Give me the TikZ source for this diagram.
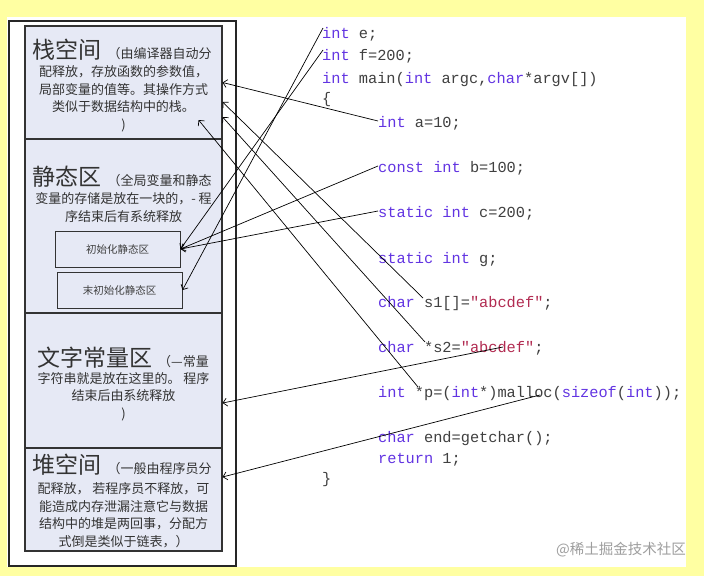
\documentclass[tikz,border=0pt]{standalone}
\usepackage{fontspec}
\usetikzlibrary{arrows.meta}
\newfontfamily\cjk{Noto Sans CJK SC}
\newfontfamily\codefont{Liberation Mono}
\definecolor{bgyellow}{RGB}{255,255,162}
\definecolor{areafill}{RGB}{230,233,245}
\definecolor{kwblue}{RGB}{98,52,226}
\definecolor{strred}{RGB}{178,44,82}
\definecolor{codegray}{RGB}{64,64,64}
\newcommand{\kw}[1]{\textcolor{kwblue}{#1}}
\newcommand{\strg}[1]{\textcolor{strred}{#1}}
\newcommand{\areaname}[1]{{\fontsize{23}{23}\selectfont #1}\hspace{6pt}}
\tikzset{
  area/.style={draw=black!80, fill=areafill, line width=1.1pt, minimum width=197pt, inner sep=0pt},
  subarea/.style={draw=black!80, fill=areafill, line width=1pt, minimum width=125pt, minimum height=36pt,
    inner sep=0pt, font=\cjk\fontsize{10.5}{12}\selectfont, text=black!75},
  title/.style={anchor=base, inner sep=0pt, font=\cjk\fontsize{13}{13}\selectfont, text=black!80},
  desc/.style={anchor=base, inner sep=0pt, align=center, font=\cjk\fontsize{13}{17.5}\selectfont, text=black!80},
  code/.style={anchor=base west, inner sep=0pt, font=\codefont\fontsize{15.3}{15.3}\selectfont, text=codegray},
  link/.style={->, line width=0.7pt},
}
\begin{document}
\begin{tikzpicture}[x=1pt, y=-1pt, >={Straight Barb[length=4pt,width=8pt]}]
\useasboundingbox (0,0) rectangle (704,576);
\fill[bgyellow] (0,0) rectangle (704,576);
\fill[white] (7,17) rectangle (686,567);

% memory areas
\node[draw=black!85, line width=1.2pt, minimum width=227pt, minimum height=545pt, inner sep=0pt] (mem) at (122.5,293.5) {};
\node[area, minimum height=113pt] (stack) at (123.5,82.5) {};
\node[area, minimum height=174pt] (static) at (123.5,226) {};
\node[area, minimum height=135pt] (literal) at (123.5,380.5) {};
\node[area, minimum height=103pt] (heap) at (123.5,499.5) {};
\node[subarea] (init) at (117.5,249) {初始化静态区};
\node[subarea] (uninit) at (119.5,290) {末初始化静态区};

% text of each area (desc is placed by its last line)
\node[title] (stackname) at (122,58) {\areaname{栈空间}（由编译器自动分};
\node[desc] (stacktxt) at (123.5,129) {配释放，存放函数的参数值，\\局部变量的值等。其操作方式\\类似于数据结构中的栈。\\)};
\node[title] (staticname) at (122,185) {\areaname{静态区}（全局变量和静态};
\node[desc] (statictxt) at (123.5,221) {变量的存储是放在一块的，- 程\\序结束后有系统释放};
\node[title] (literalname) at (123,366) {\areaname{文字常量区}（—常量};
\node[desc] (literaltxt) at (123.5,418) {字符串就是放在这里的。 程序\\结束后由系统释放\\)};
\node[title] (heapname) at (122,473) {\areaname{堆空间}（一般由程序员分};
\node[desc] (heaptxt) at (123.5,546) {配释放， 若程序员不释放，可\\能造成内存泄漏注意它与数据\\结构中的堆是两回事，分配方\\式倒是类似于链表，）};

% program
\foreach \n/\x/\y/\t in {
  ce/322/38/{\kw{int} e;},
  cf/322/60/{\kw{int} f=200;},
  cmain/322/83/{\kw{int} main(\kw{int} argc,\kw{char}*argv[])},
  copen/322/103/{\{},
  ca/378/127/{\kw{int} a=10;},
  cb/378/172/{\kw{const} \kw{int} b=100;},
  cc/378/217/{\kw{static} \kw{int} c=200;},
  cg/378/263/{\kw{static} \kw{int} g;},
  cs1/378/307/{\kw{char} s1[]=\strg{"abcdef"};},
  cs2/378/352/{\kw{char} *s2=\strg{"abcdef"};},
  cp/378/397/{\kw{int} *p=(\kw{int}*)malloc(\kw{sizeof}(\kw{int}));},
  cend/378/442/{\kw{char} end=getchar();},
  cret/378/463/{\kw{return} 1;},
  cclose/322/483/{\}}}
  \node[code] (\n) at (\x,\y) {\t};

% where each variable lives
\draw[link] ([yshift=6pt]ca.base west) -- (stack.east);
\draw[link] ([xshift=45pt,yshift=9pt]cs1.base west) -- ([yshift=-19.5pt]stack.east);
\draw[link] ([xshift=47pt,yshift=10pt]cs2.base west) -- ([yshift=-34.5pt]stack.east);
\draw[link] ([xshift=40pt,yshift=10pt]cp.base west) -- ([xshift=-24pt,yshift=-37.5pt]stack.east);
\draw[link] ([xshift=1pt,yshift=10pt]ce.base west) -- (uninit.east);
\draw[link] ([xshift=1pt,yshift=10pt]cf.base west) -- (init.east);
\draw[link] ([yshift=6pt]cb.base west) -- (init.east);
\draw[link] ([yshift=6pt]cc.base west) -- (init.east);
\draw[link] ([xshift=125pt,yshift=5pt]cs2.base west) -- ([yshift=-22.5pt]literal.east);
\draw[link] ([xshift=162pt,yshift=2pt]cp.base west) -- ([yshift=22.5pt]heap.east);

\node[anchor=east, inner sep=0pt, font=\cjk\fontsize{14.5}{14.5}\selectfont, text=black!38] (mark) at (686,550) {@稀土掘金技术社区};
\end{tikzpicture}
\end{document}
